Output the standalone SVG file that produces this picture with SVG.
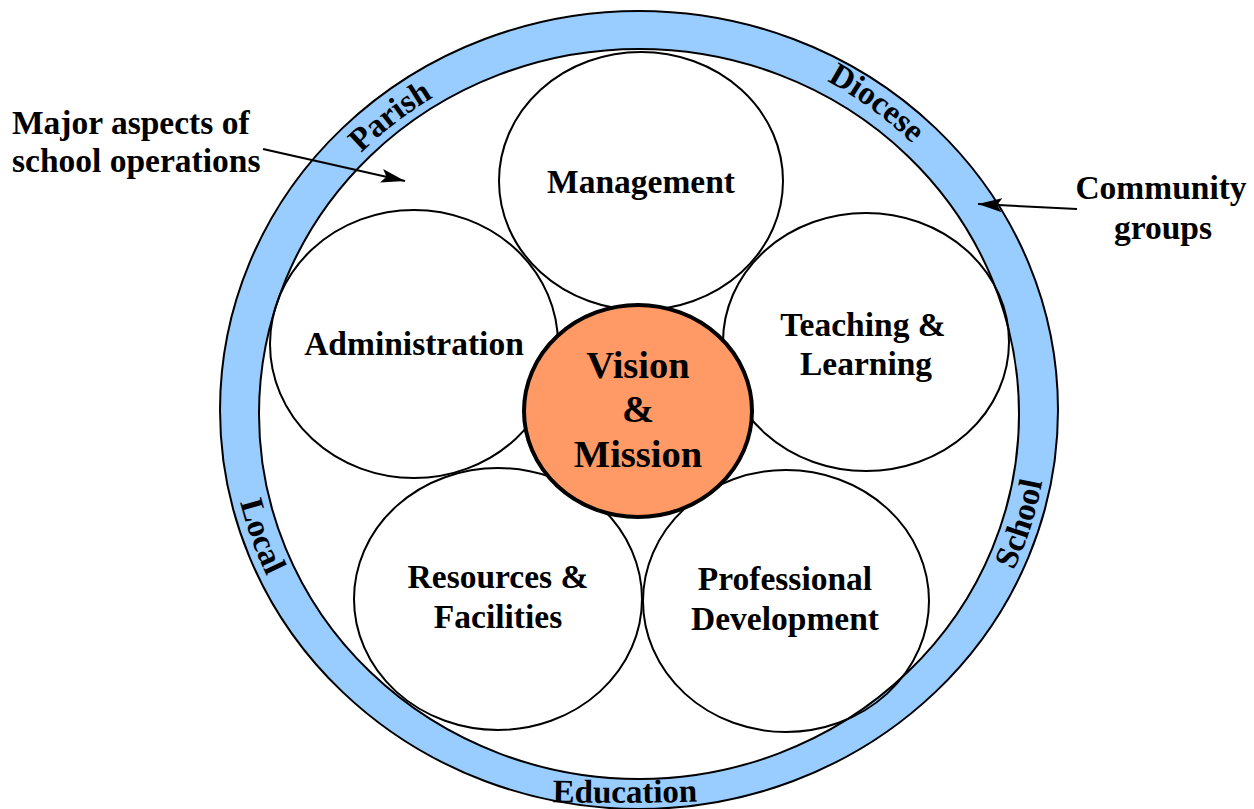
<svg xmlns="http://www.w3.org/2000/svg" width="1254" height="809" viewBox="0 0 1254 809">
  <style>
    text { font-family: "Liberation Serif", "Times New Roman", serif; font-weight: bold; fill: #000; }
    .lbl { font-size: 33.5px; text-anchor: middle; }
    .left { text-anchor: start; }
    .ring-lbl { font-size: 33px; text-anchor: middle; }
    .big { font-size: 38.5px; text-anchor: middle; }
    .aspect { fill: none; stroke: #000; stroke-width: 2; }
    .conn { fill: none; stroke: #000; stroke-width: 2; }
  </style>
  <defs>
    <marker id="arrow" markerUnits="userSpaceOnUse" markerWidth="26" markerHeight="16" refX="24" refY="8" orient="auto">
      <path d="M0,1 L24,8 L0,15 L5,8 Z" fill="#000"/>
    </marker>
    <!-- baselines for the ring labels -->
    <path id="p-parish" d="M 306.5 220.9 A 388 371 0 0 1 512.5 61.1"/>
    <path id="p-diocese" d="M 752 50 A 388 371 0 0 1 964 206"/>
    <path id="p-school" d="M 966.4 647.3 A 410 391 0 0 0 1048.4 391.5"/>
    <path id="p-local" d="M 229.1 405.2 A 410 391 0 0 0 320.4 658.1"/>
    <path id="p-education" d="M 485 800 Q 625 806 765 799"/>
  </defs>

  <rect width="1254" height="809" fill="#fff"/>

  <!-- community ring -->
  <g id="community-ring">
    <ellipse cx="639" cy="410" rx="419" ry="399" fill="#99CCFF" stroke="#000" stroke-width="2"/>
    <ellipse cx="639" cy="414" rx="380" ry="365" fill="#fff" stroke="#000" stroke-width="2"/>
    <text class="ring-lbl"><textPath href="#p-parish" startOffset="50%">Parish</textPath></text>
    <text class="ring-lbl"><textPath href="#p-diocese" startOffset="50%">Diocese</textPath></text>
    <text class="ring-lbl"><textPath href="#p-school" startOffset="50%">School</textPath></text>
    <text class="ring-lbl"><textPath href="#p-local" startOffset="50%">Local</textPath></text>
    <text class="ring-lbl"><textPath href="#p-education" startOffset="50%">Education</textPath></text>
  </g>

  <!-- aspects of school operations -->
  <g id="management">
    <ellipse class="aspect" cx="641" cy="181" rx="142" ry="129"/>
    <text class="lbl" x="641" y="193">Management</text>
  </g>
  <g id="administration">
    <ellipse class="aspect" cx="414" cy="344" rx="144" ry="134"/>
    <text class="lbl" x="414" y="355">Administration</text>
  </g>
  <g id="teaching-learning">
    <ellipse class="aspect" cx="866" cy="342" rx="143" ry="129"/>
    <text class="lbl" x="863" y="336">Teaching &amp;</text>
    <text class="lbl" x="866" y="375">Learning</text>
  </g>
  <g id="resources-facilities">
    <ellipse class="aspect" cx="498" cy="599" rx="144" ry="131"/>
    <text class="lbl" x="498" y="588">Resources &amp;</text>
    <text class="lbl" x="498" y="628">Facilities</text>
  </g>
  <g id="professional-development">
    <ellipse class="aspect" cx="786" cy="601" rx="143" ry="131"/>
    <text class="lbl" x="785" y="590">Professional</text>
    <text class="lbl" x="785" y="630">Development</text>
  </g>

  <!-- centre -->
  <g id="vision-mission">
    <ellipse cx="638" cy="411" rx="114" ry="106" fill="#FF9966" stroke="#000" stroke-width="4"/>
    <text class="big" x="638" y="378">Vision</text>
    <text class="big" x="638" y="422">&amp;</text>
    <text class="big" x="638" y="467">Mission</text>
  </g>

  <!-- callout labels -->
  <g id="aspects-label">
    <text class="lbl left" x="12" y="134">Major aspects of</text>
    <text class="lbl left" x="12" y="172">school operations</text>
  </g>
  <g id="community-label">
    <text class="lbl" x="1161" y="199">Community</text>
    <text class="lbl" x="1163" y="239">groups</text>
  </g>

  <g id="connectors">
    <line class="conn" x1="263" y1="149" x2="405" y2="181" marker-end="url(#arrow)"/>
    <line class="conn" x1="1077" y1="209" x2="978" y2="204" marker-end="url(#arrow)"/>
  </g>
</svg>
